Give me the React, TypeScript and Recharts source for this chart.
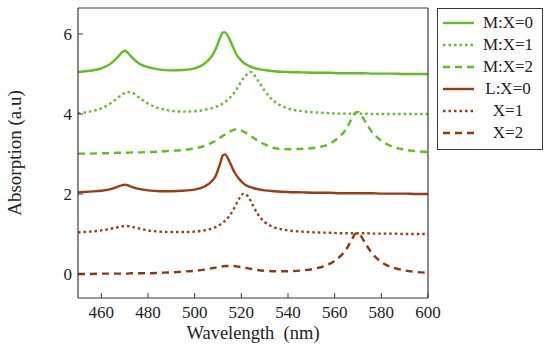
// App.tsx — absorption spectra, M / L series stacked with offsets

import { LineChart, Line, XAxis, YAxis, Label } from 'recharts'

const GREEN = '#62bd24'
const BROWN = '#9c3c14'
const BROWN_DARK = '#8a3a10'
const FRAME = '#3a3a3a'
const INK = '#222'
const FONT = '"Liberation Serif", "DejaVu Serif", serif'

const wavelengths = [
  450, 455, 460, 464, 467, 469, 470, 471, 473, 476, 480, 485, 490, 495, 500, 504,
  507, 509, 511, 512, 513, 515, 517, 518, 519, 521, 523, 524, 525, 527, 530, 534,
  540, 546, 552, 558, 562, 565, 567, 569, 570, 571, 573, 576, 580, 585, 590, 595, 600,
]

const mX0 = [
  5.05, 5.08, 5.14, 5.26, 5.42, 5.55, 5.58, 5.55, 5.42, 5.27, 5.17, 5.11, 5.09, 5.10, 5.14, 5.25,
  5.42, 5.62, 5.92, 6.04, 6.04, 5.86, 5.60, 5.48, 5.40, 5.28, 5.21, 5.18, 5.16, 5.13, 5.10, 5.07,
  5.05, 5.04, 5.03, 5.03, 5.02, 5.02, 5.02, 5.02, 5.02, 5.02, 5.02, 5.01, 5.01, 5.01, 5.0, 5.0, 5.0,
]

const mX1 = [
  4.02, 4.06, 4.14, 4.27, 4.40, 4.49, 4.53, 4.55, 4.54, 4.42, 4.26, 4.14, 4.08, 4.06, 4.07, 4.10,
  4.14, 4.18, 4.23, 4.26, 4.30, 4.40, 4.53, 4.62, 4.72, 4.90, 5.02, 5.05, 5.01, 4.85, 4.58, 4.32,
  4.14, 4.07, 4.04, 4.02, 4.01, 4.01, 4.01, 4.01, 4.01, 4.01, 4.01, 4.0, 4.0, 4.0, 4.0, 4.0, 4.0,
]

const mX2 = [
  3.01, 3.01, 3.02, 3.02, 3.03, 3.03, 3.03, 3.03, 3.04, 3.04, 3.05, 3.06, 3.08, 3.10, 3.14, 3.20,
  3.27, 3.33, 3.41, 3.45, 3.49, 3.56, 3.61, 3.62, 3.61, 3.56, 3.49, 3.45, 3.41, 3.34, 3.24, 3.15,
  3.12, 3.13, 3.16, 3.26, 3.43, 3.63, 3.85, 4.04, 4.05, 4.0, 3.82, 3.55, 3.33, 3.18, 3.11, 3.07, 3.05,
]

const lX0 = [
  2.04, 2.06, 2.08, 2.12, 2.18, 2.22, 2.23, 2.22, 2.18, 2.13, 2.09, 2.07, 2.07, 2.08, 2.11, 2.18,
  2.30, 2.45, 2.78, 2.96, 2.99, 2.80, 2.55, 2.46, 2.38, 2.26, 2.19, 2.17, 2.15, 2.12, 2.09, 2.07,
  2.05, 2.04, 2.03, 2.03, 2.02, 2.02, 2.02, 2.02, 2.02, 2.02, 2.02, 2.02, 2.01, 2.01, 2.01, 2.0, 2.0,
]

const x1 = [
  1.04, 1.06, 1.09, 1.13, 1.17, 1.19, 1.20, 1.20, 1.18, 1.14, 1.09, 1.06, 1.05, 1.05, 1.06, 1.09,
  1.13, 1.17, 1.24, 1.28, 1.33, 1.46, 1.65, 1.77, 1.88, 2.01, 1.93, 1.83, 1.71, 1.50, 1.30, 1.17,
  1.09, 1.06, 1.04, 1.03, 1.02, 1.02, 1.02, 1.02, 1.02, 1.02, 1.02, 1.01, 1.01, 1.01, 1.0, 1.0, 1.0,
]

const x2 = [
  0.0, 0.0, 0.01, 0.01, 0.01, 0.01, 0.01, 0.01, 0.02, 0.02, 0.02, 0.03, 0.04, 0.06, 0.08, 0.11,
  0.14, 0.16, 0.18, 0.19, 0.20, 0.20, 0.20, 0.19, 0.18, 0.16, 0.14, 0.13, 0.12, 0.10, 0.08, 0.07,
  0.07, 0.09, 0.14, 0.26, 0.42, 0.62, 0.82, 1.01, 1.02, 0.97, 0.78, 0.52, 0.30, 0.16, 0.09, 0.05, 0.03,
]

const xTicks = [460, 480, 500, 520, 540, 560, 580, 600]
const yTicks = [0, 2, 4, 6]

const series = [
  { key: 'mX0', name: 'M:X=0', color: GREEN,      dash: undefined },
  { key: 'mX1', name: 'M:X=1', color: GREEN,      dash: '2.5 3' },
  { key: 'mX2', name: 'M:X=2', color: GREEN,      dash: '7 5' },
  { key: 'lX0', name: 'L:X=0', color: BROWN,      dash: undefined },
  { key: 'x1',  name: 'X=1',   color: BROWN,      dash: '2.5 3' },
  { key: 'x2',  name: 'X=2',   color: BROWN_DARK, dash: '7 5' },
]

const data = wavelengths.map((w, i) => ({
  w,
  mX0: mX0[i],
  mX1: mX1[i],
  mX2: mX2[i],
  lX0: lX0[i],
  x1:  x1[i],
  x2:  x2[i],
}))

interface TickProps {
  x?: number
  y?: number
  payload?: { value: number }
}

interface LabelViewBox {
  x: number
  y: number
  width: number
  height: number
}

// own tick text so the serif family actually sticks
function XTick({ x = 0, y = 0, payload }: TickProps) {
  return (
    <text x={x} y={y} dy={12} textAnchor="middle" fontFamily={FONT} fontSize={17} fill={INK}>
      {payload?.value}
    </text>
  )
}

function YTick({ x = 0, y = 0, payload }: TickProps) {
  return (
    <text x={x} y={y} dy={6} textAnchor="end" fontFamily={FONT} fontSize={17} fill={INK}>
      {payload?.value}
    </text>
  )
}

function XTitle({ viewBox }: { viewBox?: LabelViewBox }) {
  if (!viewBox) return null
  return (
    <text
      x={viewBox.x + viewBox.width / 2}
      y={viewBox.y + viewBox.height - 9}
      textAnchor="middle"
      fontFamily={FONT}
      fontSize={18.5}
      fill={INK}
      style={{ whiteSpace: 'pre' }}
    >
      {'Wavelength  (nm)'}
    </text>
  )
}

function YTitle({ viewBox }: { viewBox?: LabelViewBox }) {
  if (!viewBox) return null
  const cx = viewBox.x + 21
  const cy = viewBox.y + viewBox.height / 2
  return (
    <text
      x={cx}
      y={cy}
      transform={`rotate(-90 ${cx} ${cy})`}
      textAnchor="middle"
      fontFamily={FONT}
      fontSize={19}
      fill={INK}
    >
      Absorption (a.u)
    </text>
  )
}

function LegendBox() {
  return (
    <div
      style={{
        position:   'absolute',
        left:       437,
        top:        8,
        width:      104,
        padding:    '3px 0 5px 0',
        border:     `1px solid ${FRAME}`,
        background: '#fff',
        fontFamily: FONT,
        fontSize:   17,
        color:      INK,
      }}
    >
      {series.map((s) => (
        <div key={s.key} style={{ display: 'flex', alignItems: 'center', height: 22 }}>
          <svg width={31} height={10} style={{ marginLeft: 5 }}>
            <line x1={0} x2={31} y1={5} y2={5} stroke={s.color} strokeWidth={2.4} strokeDasharray={s.dash} />
          </svg>
          <span style={{ flex: 1, textAlign: 'center' }}>{s.name}</span>
        </div>
      ))}
    </div>
  )
}

export default function App() {
  return (
    <div style={{ position: 'absolute', left: 0, top: 0, width: 550, height: 355, background: '#fff' }}>
      <LineChart
        width={550}
        height={355}
        data={data}
        margin={{ top: 0, right: 121, bottom: 7, left: 0 }}
      >
        <XAxis
          dataKey="w"
          type="number"
          domain={[450, 600]}
          ticks={xTicks}
          height={50}
          tick={<XTick />}
          tickSize={-5}
          tickMargin={13}
          axisLine={{ stroke: FRAME, strokeWidth: 1.2 }}
          tickLine={{ stroke: FRAME }}
        >
          <Label content={<XTitle />} />
        </XAxis>
        <XAxis
          xAxisId="top"
          orientation="top"
          dataKey="w"
          type="number"
          domain={[450, 600]}
          ticks={xTicks}
          height={8}
          tick={false}
          tickSize={-5}
          axisLine={{ stroke: FRAME, strokeWidth: 1.2 }}
          tickLine={{ stroke: FRAME }}
        />
        <YAxis
          type="number"
          domain={[-0.6, 6.65]}
          ticks={yTicks}
          width={78}
          tick={<YTick />}
          tickSize={-5}
          tickMargin={11}
          axisLine={{ stroke: FRAME, strokeWidth: 1.2 }}
          tickLine={{ stroke: FRAME }}
        >
          <Label content={<YTitle />} />
        </YAxis>
        <YAxis
          yAxisId="right"
          orientation="right"
          type="number"
          domain={[-0.6, 6.65]}
          ticks={yTicks}
          width={1}
          tick={false}
          tickSize={-5}
          axisLine={{ stroke: FRAME, strokeWidth: 1.2 }}
          tickLine={{ stroke: FRAME }}
        />

        {series.map((s) => (
          <Line
            key={s.key}
            type="monotone"
            dataKey={s.key}
            name={s.name}
            stroke={s.color}
            strokeWidth={2.4}
            strokeDasharray={s.dash}
            dot={false}
            activeDot={false}
            isAnimationActive={false}
          />
        ))}
      </LineChart>
      <LegendBox />
    </div>
  )
}
